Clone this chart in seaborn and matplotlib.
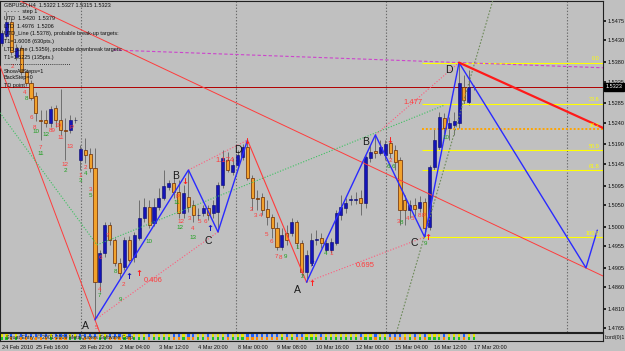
import numpy as np
import pandas as pd
import matplotlib
matplotlib.use("Agg")
import matplotlib.pyplot as plt
from matplotlib.lines import Line2D
import seaborn as sns

# ---------------- data (GBPUSD, H4) ----------------
opens = [1.5424, 1.5440, 1.5473, 1.5392, 1.5413, 1.5357, 1.5332, 1.5302, 1.5246, 1.5246,
         1.5240, 1.5274, 1.5246, 1.5223, 1.5223, 1.5246, 1.5154, 1.5177, 1.5168, 1.5136,
         1.4872, 1.4939, 1.5004, 1.4969, 1.4916, 1.4907, 1.4969, 1.4930, 1.4974, 1.5020,
         1.5046, 1.5009, 1.5046, 1.5066, 1.5092, 1.5101, 1.5080, 1.5032, 1.5069, 1.5050,
         1.5027, 1.5032, 1.5043, 1.5032, 1.5034, 1.5096, 1.5154, 1.5126, 1.5143, 1.5161,
         1.5184, 1.5113, 1.5066, 1.5069, 1.5041, 1.5022, 1.4997, 1.4953, 1.4986, 1.4986,
         1.5011, 1.4962, 1.4896, 1.4916, 1.4969, 1.4974, 1.4946, 1.4946, 1.4962, 1.5027,
         1.5043, 1.5062, 1.5062, 1.5066, 1.5055, 1.5159, 1.5175, 1.5170, 1.5166, 1.5193,
         1.5177, 1.5154, 1.5062, 1.5039, 1.5050, 1.5043, 1.5057, 1.4999, 1.5138, 1.5184,
         1.5251, 1.5228, 1.5235, 1.5240, 1.5323, 1.5288, 1.5322]
closes = [1.5447, 1.5473, 1.5403, 1.5413, 1.5357, 1.5332, 1.5297, 1.5263, 1.5244, 1.5240,
          1.5272, 1.5246, 1.5223, 1.5221, 1.5246, 1.5247, 1.5180, 1.5166, 1.5136, 1.4872,
          1.4939, 1.5004, 1.4969, 1.4916, 1.4893, 1.4969, 1.4923, 1.4981, 1.5020, 1.5046,
          1.5004, 1.5046, 1.5066, 1.5094, 1.5101, 1.5080, 1.5032, 1.5078, 1.5046, 1.5027,
          1.5028, 1.5043, 1.5027, 1.5050, 1.5096, 1.5159, 1.5131, 1.5143, 1.5166, 1.5184,
          1.5113, 1.5066, 1.5065, 1.5039, 1.5022, 1.4997, 1.4953, 1.4981, 1.4969, 1.5011,
          1.4962, 1.4896, 1.4935, 1.4969, 1.4972, 1.4962, 1.4962, 1.4965, 1.5032, 1.5046,
          1.5055, 1.5063, 1.5064, 1.5055, 1.5161, 1.5172, 1.5170, 1.5184, 1.5191, 1.5170,
          1.5149, 1.5039, 1.5039, 1.5050, 1.5041, 1.5057, 1.4997, 1.5138, 1.5200, 1.5253,
          1.5228, 1.5240, 1.5244, 1.5332, 1.5293, 1.5323, 1.5323]
highs = [1.5454, 1.5496, 1.5482, 1.5422, 1.5420, 1.5362, 1.5339, 1.5311, 1.5270, 1.5270,
         1.5279, 1.5281, 1.5318, 1.5251, 1.5258, 1.5253, 1.5189, 1.5205, 1.5182, 1.5182,
         1.4946, 1.5011, 1.5011, 1.4974, 1.4928, 1.4976, 1.4979, 1.4988, 1.5062, 1.5066,
         1.5062, 1.5066, 1.5089, 1.5131, 1.5108, 1.5119, 1.5108, 1.5096, 1.5131, 1.5062,
         1.5043, 1.5050, 1.5050, 1.5062, 1.5103, 1.5177, 1.5172, 1.5159, 1.5177, 1.5191,
         1.5200, 1.5119, 1.5085, 1.5078, 1.5062, 1.5029, 1.5011, 1.4997, 1.5004, 1.5020,
         1.5016, 1.4969, 1.4946, 1.4986, 1.4992, 1.4986, 1.4969, 1.4974, 1.5039, 1.5073,
         1.5066, 1.5073, 1.5080, 1.5085, 1.5166, 1.5189, 1.5212, 1.5200, 1.5200, 1.5207,
         1.5189, 1.5161, 1.5073, 1.5062, 1.5066, 1.5071, 1.5066, 1.5143, 1.5228, 1.5265,
         1.5263, 1.5253, 1.5265, 1.5379, 1.5350, 1.5362, 1.5327]
lows = [1.5417, 1.5436, 1.5397, 1.5385, 1.5350, 1.5325, 1.5293, 1.5244, 1.5200, 1.5230,
        1.5230, 1.5230, 1.5212, 1.5154, 1.5216, 1.5240, 1.5131, 1.5147, 1.5126, 1.4785,
        1.4849, 1.4930, 1.4958, 1.4909, 1.4882, 1.4900, 1.4919, 1.4919, 1.4969, 1.5011,
        1.4997, 1.5002, 1.5039, 1.5062, 1.5085, 1.5066, 1.5020, 1.5020, 1.5034, 1.5011,
        1.5016, 1.5025, 1.5016, 1.5020, 1.4988, 1.5089, 1.5126, 1.5119, 1.5136, 1.5154,
        1.5108, 1.5039, 1.5039, 1.5027, 1.5004, 1.4974, 1.4946, 1.4946, 1.4958, 1.4979,
        1.4951, 1.4886, 1.4872, 1.4909, 1.4958, 1.4951, 1.4942, 1.4939, 1.4958, 1.5016,
        1.5032, 1.5050, 1.5052, 1.5027, 1.5043, 1.5149, 1.5159, 1.5166, 1.5154, 1.5159,
        1.5131, 1.5004, 1.5004, 1.5020, 1.5025, 1.5034, 1.4976, 1.4992, 1.5131, 1.5177,
        1.5205, 1.5200, 1.5212, 1.5228, 1.5283, 1.5281, 1.5315]

price_ticks = [1.5475, 1.5430, 1.5380, 1.5335, 1.5285, 1.5240, 1.5190, 1.5145, 1.5095,
               1.5050, 1.5000, 1.4955, 1.4905, 1.4860, 1.4810, 1.4765]
time_tick_bars = [0, 7, 16, 24, 32, 40, 48, 56, 64, 72, 80, 88, 96]
time_tick_labels = ["24 Feb 2010", "25 Feb 16:00", "28 Feb 22:00", "2 Mar 04:00", "3 Mar 12:00",
                    "4 Mar 20:00", "8 Mar 00:00", "9 Mar 08:00", "10 Mar 16:00", "12 Mar 00:00",
                    "15 Mar 04:00", "16 Mar 12:00", "17 Mar 20:00"]
week_separators = [16.2, 47.7, 78.2, 114.9]
bid_price = 1.5323

# zigzag pivots (bar indices): A B C D of two patterns
zz_bars = [19, 38, 44, 50, 62, 76, 86, 93]
zz_kind = ["L", "H", "L", "H", "L", "H", "L", "H"]
zz_names = ["A", "B", "C", "D", "A", "B", "C", "D"]
name_bars = [17.0, 35.4, 42.0, 48.1, 60.1, 74.1, 83.9, 91.0]
name_prices = [1.4771, 1.5117, 1.4967, 1.5177, 1.4854, 1.5196, 1.4962, 1.5362]
ratio_texts = ["0.406", "1.174", "0.695", "1.477"]
ratio_bars = [30.8, 45.4, 73.9, 83.6]
ratio_prices = [1.4875, 1.5154, 1.4911, 1.5286]
proj_bars = [118.8, 121.1]
proj_prices = [1.4905, 1.4992]

fib_levels = [0.0, 23.6, 38.2, 50.0, 61.8, 100.0]
fib_labels = ["0.0", "23.6", "38.2", "50.0", "61.8", "100.0"]

# trend lines (two anchor points each)
utd_line = [(22.7, 1.5408), (122.3, 1.5367)]
red_line_1 = [(0.0, 1.5362), (19.0, 1.4785)]
red_line_2 = [(32.2, 1.5369), (122.3, 1.4886)]
red_thick_end = (122.3, 1.5228)
green_dots_bars = [-0.3, 19.4, 90.1]
green_dots_prices = [1.5263, 1.4958, 1.5281]
steep_line = [(85.9, 1.4976), (99.9, 1.5524)]

td_bars = [2.3, 4.8, 5.0, 6.0, 6.8, 7.0, 8.0, 8.0, 9.0, 10.4, 11.4, 12.1, 13.9, 14.3,
           12.9, 12.9, 16.0, 16.0, 17.0, 17.0, 18.0, 18.0, 20.0, 21.6, 23.1, 24.1, 20.0, 20.0,
           19.2, 24.8, 30.0, 35.7, 35.7, 36.5, 36.3, 38.3, 38.9, 38.9, 40.3, 41.5, 50.7, 51.7,
           52.7, 53.8, 54.8, 55.8, 56.8, 57.8, 60.1, 60.9, 61.1, 65.9, 67.0, 79.0, 78.6, 79.6,
           80.6, 81.4, 82.6, 83.6, 84.9, 85.7, 86.1, 90.3]
td_prices = [1.5371, 1.5309, 1.5295, 1.5253, 1.5230, 1.5219, 1.5182, 1.5168, 1.5214, 1.5223,
             1.5233, 1.5207, 1.5186, 1.5230, 1.5143, 1.5129, 1.5119, 1.5106, 1.5136,
             1.5122, 1.5085, 1.5071, 1.4928, 1.4979, 1.4896, 1.4831, 1.4856, 1.4842, 1.4768,
             1.4866, 1.4967, 1.5069, 1.5055, 1.5011, 1.4999, 1.5020, 1.4995, 1.4976, 1.5013,
             1.5013, 1.5039, 1.5025, 1.5025, 1.4981, 1.4965, 1.4932, 1.4928, 1.4932, 1.4953,
             1.4896, 1.4884, 1.4939, 1.4939, 1.5154, 1.5138, 1.5138, 1.5011, 1.5009, 1.5020,
             1.5020, 1.5027, 1.5027, 1.4962, 1.5207]
td_texts = ["2", "4", "8", "6", "8", "10", "7", "11", "12", "89", "10", "11", "13", "P",
            "12", "2", "1", "3", "2", "4", "3", "5", "6", "7", "8", "9", "4", "7",
            "5", "2", "10", "P", "11", "12", "12", "3", "4", "13", "5", "6", "2", "3",
            "4", "5", "6", "7", "8", "9", "1", "1", "2", "4", "1", "2", "6", "6",
            "3", "8", "4", "5", "8", "P", "9", "10"]
td_kind = ["r", "r", "g", "r", "r", "g", "r", "g", "g", "r", "r", "r", "r", "r",
           "r", "g", "r", "g", "r", "g", "r", "g", "r", "r", "g", "g", "r", "g",
           "r", "r", "g", "r", "g", "r", "g", "r", "r", "g", "r", "r", "r", "r",
           "r", "r", "r", "r", "r", "g", "g", "r", "g", "g", "r", "r", "g", "g",
           "r", "g", "r", "r", "r", "r", "g", "g"]

arrow_bars = [25.9, 27.9, 42.3, 37.3, 49.9, 63.1, 63.1, 86.7, 79.0]
arrow_prices = [1.4886, 1.4893, 1.4997, 1.5104, 1.5196, 1.4916, 1.4870, 1.4976, 1.5198]
arrow_kind = ["bu", "ru", "bu", "rd", "rd", "bu", "ru", "ru", "rd"]

info_lines = ["GBPUSD,H4  1.5322 1.5327 1.5315 1.5323",
              "- - - - -  step 1",
              "UTD  1.5420  1.5379",
              "LTD  1.4976  1.5206",
              "UTD_Line (1.5378), probable break-up targets:",
              "T1=1.6008 (630pts.)",
              "LTD_Line (1.5359), probable downbreak targets:",
              "T1=1.5225 (135pts.)",
              "ShowAllSteps=1",
              "BackStep=0",
              "TD point"]
info_rows_px = [5, 12, 19, 26, 34, 42, 49, 57, 71, 78, 86]

# ---------------- styling ----------------
sns.set_theme(style="white")
plt.rcParams["font.family"] = ["Liberation Sans", "DejaVu Sans"]
BG = "#C0C0C0"
BLUE, BLUE_E = "#1414B8", "#08086A"
ORANGE, ORANGE_E = "#F2A22C", "#6B2A00"
WICK = "#6E6E6E"
RED_T = "#FF3C3C"
GREEN_T = "#1E9E1E"

W, H = 625, 351
fig = plt.figure(figsize=(W / 100, H / 100), dpi=100)
fig.patch.set_facecolor(BG)
ax = fig.add_axes([0, 19 / H, 603 / W, 331 / H])
axi = fig.add_axes([0, 10 / H, 603 / W, 8 / H])
for a in (ax, axi):
    a.set_facecolor(BG)
    for s in a.spines.values():
        s.set_color("#202020")
        s.set_linewidth(0.8)

o = np.array(opens); c = np.array(closes); hi = np.array(highs); lo = np.array(lows)
x = np.arange(len(o))
up = c >= o
body_lo = np.minimum(o, c)
body_h = np.maximum(np.abs(c - o), 0.00004)

# separators and bid line
for s in week_separators:
    ax.axvline(s, color="#6A6A6A", lw=0.8, ls=(0, (1.2, 1.6)), zorder=1)
ax.axhline(bid_price, color="#B00000", lw=0.7, zorder=1)

# candles
ax.vlines(x, lo, hi, color=WICK, lw=0.7, zorder=2)
ax.bar(x[up], body_h[up], bottom=body_lo[up], width=0.62, color=BLUE,
       edgecolor=BLUE_E, linewidth=0.4, zorder=3)
ax.bar(x[~up], body_h[~up], bottom=body_lo[~up], width=0.62, color=ORANGE,
       edgecolor=ORANGE_E, linewidth=0.5, zorder=3)

# fibonacci levels between C2 low and D2 high
fib_hi = hi[zz_bars[7]]; fib_lo = lo[zz_bars[6]]
for lev, lab in zip(fib_levels, fib_labels):
    pr = fib_hi - (fib_hi - fib_lo) * lev / 100.0
    if lev == 38.2:
        ax.hlines(pr, zz_bars[6] - 0.5, 123, color="#FFA500", lw=1.4, ls=(0, (1, 1)), zorder=2)
    else:
        ax.hlines(pr, zz_bars[6] - 0.5, 123, color="#FFFF00", lw=0.8, zorder=2)
    ax.text(121.6, pr + 0.0003, lab, color="#FFFF00", fontsize=4, ha="right", va="bottom", zorder=6)

# trend lines
ax.plot(*zip(*utd_line), color="#CC44CC", lw=0.8, ls=(0, (3, 2)), zorder=4)
ax.axline(red_line_1[0], red_line_1[1], color=RED_T, lw=0.7, zorder=4)
ax.axline(red_line_2[0], red_line_2[1], color=RED_T, lw=0.7, zorder=4)
sns.lineplot(x=green_dots_bars, y=green_dots_prices, ax=ax, color="#3CC060", lw=0.8,
             ls=(0, (1, 1.5)), sort=False, zorder=4)
ax.axline(steep_line[0], steep_line[1], color="#6E8A5A", lw=0.8, ls=(0, (1.5, 1.5)), zorder=4)

# zigzag
zz_prices = [lo[b] if k == "L" else hi[b] for b, k in zip(zz_bars, zz_kind)]
zz = pd.DataFrame({"bar": zz_bars, "price": zz_prices})
sns.lineplot(data=zz.iloc[0:4], x="bar", y="price", ax=ax, color="#2A2AFF", lw=1.0, zorder=5)
sns.lineplot(data=zz.iloc[3:5], x="bar", y="price", ax=ax, color=RED_T, lw=0.8, zorder=5)
sns.lineplot(data=zz.iloc[4:8], x="bar", y="price", ax=ax, color="#2A2AFF", lw=1.0, zorder=5)
proj = pd.DataFrame({"bar": [zz_bars[7]] + proj_bars, "price": [zz_prices[7]] + proj_prices})
sns.lineplot(data=proj, x="bar", y="price", ax=ax, color="#2A2AFF", lw=1.0, zorder=5)
ax.plot([zz_bars[7], red_thick_end[0]], [zz_prices[7], red_thick_end[1]], color="#FF1A1A", lw=1.6, zorder=5)

# ratio lines A->C and B->D for both patterns
for i0, i2 in [(0, 2), (1, 3), (4, 6), (5, 7)]:
    ax.plot([zz_bars[i0], zz_bars[i2]], [zz_prices[i0], zz_prices[i2]], color="#FF5C7C",
            lw=0.8, ls=(0, (1, 1.6)), zorder=4)
for t, b, p in zip(ratio_texts, ratio_bars, ratio_prices):
    ax.text(b, p, t, color="#FF3C3C", fontsize=5.5, ha="center", va="center", zorder=7)
for t, b, p in zip(zz_names, name_bars, name_prices):
    ax.text(b, p, t, color="#1A1A1A", fontsize=7.5, ha="center", va="center", zorder=7)

# TD counts
for b, p, t, k in zip(td_bars, td_prices, td_texts, td_kind):
    ax.text(b, p, t, color=RED_T if k == "r" else GREEN_T, fontsize=4.5,
            ha="center", va="center", zorder=6)
for b, p, k in zip(arrow_bars, arrow_prices, arrow_kind):
    glyph = "\u2191" if k[1] == "u" else "\u2193"
    col = "#1010C0" if k[0] == "b" else "#FF2020"
    ax.text(b, p, glyph, color=col, fontsize=6, fontweight="bold", ha="center",
            va="center", zorder=7, family="DejaVu Sans")

ax.set_xlim(-0.305, 122.26)
ax.set_ylim(1.47569, 1.55212)
ax.set_xticks([])
ax.yaxis.tick_right()
ax.set_yticks(price_ticks)
ax.set_yticklabels([f"{v:.4f}" for v in price_ticks])
ax.tick_params(axis="y", labelsize=4, length=2, pad=1.5, colors="#101010", right=True)
ax.set_xlabel(""); ax.set_ylabel("")

# current price box
ax.text(1.004, bid_price, f"{bid_price:.4f}", transform=ax.get_yaxis_transform(),
        color="white", fontsize=4, ha="left", va="center", zorder=10, clip_on=False,
        bbox=dict(boxstyle="square,pad=0.25", fc="#000000", ec="#000000"))

# indicator strip
ind = pd.DataFrame({
    "bar": np.concatenate([x, x]),
    "row": np.concatenate([np.zeros(len(x)), np.ones(len(x))]),
    "state": np.concatenate([np.where(up, "up", "dn"),
                             np.where(np.r_[c[0], c[:-1]] <= c, "rise", "fall")]),
})
sns.scatterplot(data=ind, x="bar", y="row", hue="state", ax=axi, marker="s", s=2.5,
                linewidth=0, legend=False,
                palette={"up": "#20C020", "dn": "#FF8C00", "rise": "#E8E800", "fall": "#2060FF"})
axi.text(1, 0.5, "Squat Entry, \u00a9 2001-2009 MetaQuotes Software Corp.", fontsize=3.8,
         color="#202020", va="center", ha="left", zorder=5)
axi.set_xlim(-0.305, 122.26)
axi.set_ylim(-0.8, 1.8)
axi.set_yticks([])
axi.set_xticks(time_tick_bars)
axi.set_xticklabels(time_tick_labels, ha="left")
axi.tick_params(axis="x", labelsize=4, length=2, pad=1, colors="#101010", direction="out")
axi.set_xlabel(""); axi.set_ylabel("")
fig.text(605 / W, 1 - 337 / H, "bord(0)1", fontsize=3.8, color="#101010", va="center")

# info block (top-left)
for line, ypx in zip(info_lines, info_rows_px):
    fig.text(4 / W, 1 - ypx / H, line, fontsize=4, color="#101010", va="center", ha="left")
fig.add_artist(Line2D([4 / W, 70 / W], [1 - 64 / H, 1 - 64 / H], transform=fig.transFigure,
                      color="#101010", lw=0.6, ls=(0, (1, 1.5))))

fig.savefig("out.png", dpi=100, facecolor=BG)
